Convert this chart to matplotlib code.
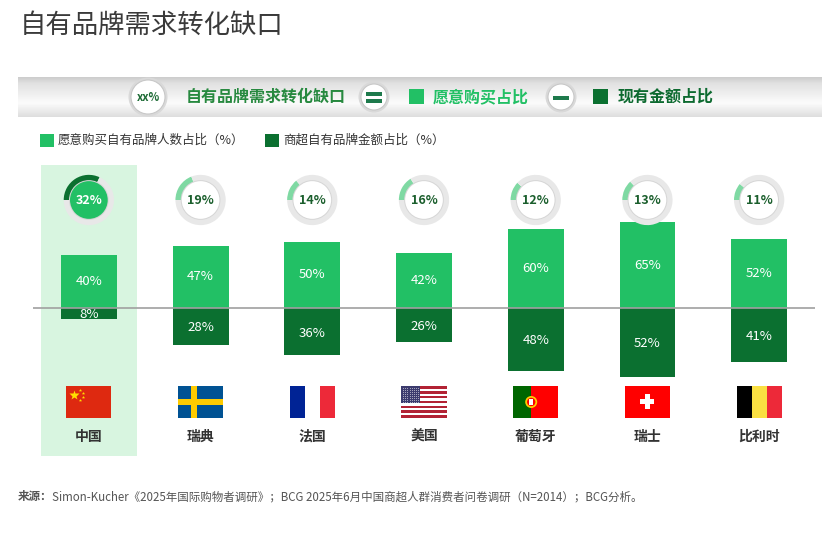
import numpy as np
import matplotlib
matplotlib.use("Agg")
from matplotlib import pyplot as plt
from matplotlib.patches import Rectangle, Circle

plt.rcParams['font.family'] = ['Noto Sans CJK SC', 'DejaVu Sans']

countries = ['中国', '瑞典', '法国', '美国', '葡萄牙', '瑞士', '比利时']
want_pct = [40, 47, 50, 42, 60, 65, 52]    # 愿意购买自有品牌人数占比
share_pct = [8, 28, 36, 26, 48, 52, 41]    # 商超自有品牌金额占比
gap_pct = [32, 19, 14, 16, 12, 13, 11]     # 需求转化缺口
flags = ['cn', 'se', 'fr', 'us', 'pt', 'ch', 'be']

LIGHT = '#22c065'
DARK = '#0b7030'
TXT = '#333333'

W, H = 839, 538
fig = plt.figure(figsize=(W / 100, H / 100), dpi=100)

# 底层画布：像素坐标
bg = fig.add_axes([0, 0, 1, 1])
bg.set_xlim(0, W)
bg.set_ylim(H, 0)
bg.axis('off')

bg.text(20, 25, '自有品牌需求转化缺口', fontsize=19, color='#3a3a3a',
        va='center', ha='left')

# 顶部灰色横幅
grad = np.interp(np.linspace(0, 1, 60), [0, 0.15, 0.65, 1.0],
                 [0.80, 0.88, 0.985, 0.87])
bg.imshow(grad[:, None], cmap='gray', vmin=0, vmax=1, aspect='auto',
          extent=(18, 822, 117, 77), zorder=1)


def badge(x, r):
    bg.add_patch(Circle((x, 97), r + 2.5, fc='#d9d9d9', ec='none', zorder=2))
    bg.add_patch(Circle((x, 97), r, fc='white', ec='#c8c8c8', lw=0.8, zorder=3))


badge(148, 17)
bg.text(148, 97.5, 'xx%', fontsize=8, color='#1d6b35', weight='bold',
        ha='center', va='center', zorder=4)
bg.text(186, 97, '自有品牌需求转化缺口', fontsize=11.5, color='#27893f',
        weight='bold', ha='left', va='center', zorder=4)
badge(374, 13)
bg.add_patch(Rectangle((366, 92), 16, 3.5, fc='#1e7a4c', zorder=4))
bg.add_patch(Rectangle((366, 99), 16, 3.5, fc='#1e7a4c', zorder=4))
bg.add_patch(Rectangle((409, 89), 15, 15, fc=LIGHT, zorder=4))
bg.text(433, 97, '愿意购买占比', fontsize=11.5, color=LIGHT,
        weight='bold', ha='left', va='center', zorder=4)
badge(561, 13)
bg.add_patch(Rectangle((553, 95.5), 16, 4, fc='#1e7a4c', zorder=4))
bg.add_patch(Rectangle((593, 89), 15, 15, fc=DARK, zorder=4))
bg.text(618, 97, '现有金额占比', fontsize=11.5, color='#0d6a30',
        weight='bold', ha='left', va='center', zorder=4)

# 图例
bg.add_patch(Rectangle((40, 134), 14, 13, fc=LIGHT))
bg.text(58, 140.5, '愿意购买自有品牌人数占比（%）', fontsize=9, color=TXT,
        va='center', ha='left')
bg.add_patch(Rectangle((265, 134), 14, 13, fc=DARK))
bg.text(283, 140.5, '商超自有品牌金额占比（%）', fontsize=9, color=TXT,
        va='center', ha='left')

# 脚注
t1 = bg.text(18, 500, '来源：', fontsize=8.3, color='#555555', weight='bold',
             va='baseline', ha='left')
bg.annotate('Simon-Kucher《2025年国际购物者调研》；BCG 2025年6月中国商超人群消费者问卷调研（N=2014）；BCG分析。',
            xy=(1, 0), xycoords=t1, va='bottom', ha='left',
            fontsize=8.3, color='#555555')

# 主图：柱状
ax = fig.add_axes([33 / W, (H - 460) / H, (815 - 33) / W, 300 / H])
ax.patch.set_alpha(0)
ax.set_xlim(-0.5, 6.5)
ax.set_ylim(-115.2, 112.1)
ax.axis('off')

x = np.arange(len(countries))
ax.add_patch(Rectangle((-0.43, -112.1), 0.86, 220.4, fc='#d8f5e0', ec='none', zorder=0))
ax.bar(x, want_pct, width=0.5, color=LIGHT, zorder=2)
ax.bar(x, [-v for v in share_pct], width=0.5, color=DARK, zorder=2)
ax.axhline(0, color='#a0a0a0', lw=1.2, zorder=3)

for i in range(len(countries)):
    ax.text(i, want_pct[i] / 2, f'{want_pct[i]}%', color='white', fontsize=9.5,
            ha='center', va='center', zorder=4)
    ax.text(i, -share_pct[i] / 2 - 1, f'{share_pct[i]}%', color='white', fontsize=9.5,
            ha='center', va='center', zorder=4)
    ax.text(i, -97.7, countries[i], color=TXT, fontsize=10, weight='bold',
            ha='center', va='center')

# 缺口圆环
for i, g in enumerate(gap_pct):
    ia = ax.inset_axes([i - 0.25, 81.8 - 20, 0.5, 40], transform=ax.transData)
    hot = i == 0
    ia.pie([g, 100 - g], startangle=180, counterclock=False,
           colors=[DARK if hot else '#7fd9a3', '#e8e8e8'],
           wedgeprops=dict(width=0.24, linewidth=0))
    ia.add_patch(Circle((0, 0), 0.79, fc='#d6d6d6', ec='none'))
    ia.add_patch(Circle((0, 0), 0.75, fc=LIGHT if hot else 'white', ec='none'))
    ia.text(0, -0.02, f'{g}%', fontsize=9, weight='bold',
            color='white' if hot else '#1a5e2c', ha='center', va='center')
    ia.set_xlim(-1.05, 1.05)
    ia.set_ylim(-1.05, 1.05)
    ia.set_aspect('equal')
    ia.axis('off')


# 国旗
def draw_flag(fa, code):
    r = lambda x0, y0, w, h, c: fa.add_patch(Rectangle((x0, y0), w, h, fc=c, ec='none'))
    if code == 'cn':
        r(0, 0, 45, 31, '#de2910')
        fa.plot([7.5], [22.5], marker='*', ms=7, color='#ffde00', mec='none')
        for sx, sy in [(14, 27), (16.5, 24), (16.5, 20), (14, 17)]:
            fa.plot([sx], [sy], marker='*', ms=2.5, color='#ffde00', mec='none')
    elif code == 'se':
        r(0, 0, 45, 31, '#005293')
        r(13, 0, 5.5, 31, '#fecb00')
        r(0, 12.8, 45, 5.5, '#fecb00')
    elif code == 'fr':
        r(0, 0, 15, 31, '#002395')
        r(15, 0, 15, 31, 'white')
        r(30, 0, 15, 31, '#ed2939')
    elif code == 'us':
        sh = 31 / 13
        for k in range(13):
            r(0, 31 - (k + 1) * sh, 45, sh, '#b22234' if k % 2 == 0 else 'white')
        r(0, 31 - 7 * sh, 19, 7 * sh, '#3c3b6e')
        for sx in np.arange(1.5, 19, 2.2):
            for sy in np.arange(31 - 7 * sh + 1.2, 31, 2.0):
                fa.plot([sx], [sy], marker='.', ms=1.2, color='white', mec='none')
    elif code == 'pt':
        r(0, 0, 18, 31, '#006600')
        r(18, 0, 27, 31, '#ff0000')
        fa.add_patch(Circle((18, 15.5), 6, fc='#ffcc00', ec='none'))
        fa.add_patch(Circle((18, 15.5), 4.2, fc='#ff0000', ec='none'))
        fa.add_patch(Rectangle((16, 12.5), 4, 6, fc='white', ec='none'))
    elif code == 'ch':
        r(0, 0, 45, 31, '#ff0000')
        r(20, 8, 5, 15, 'white')
        r(15.5, 13, 14, 5, 'white')
    elif code == 'be':
        r(0, 0, 15, 31, '#000000')
        r(15, 0, 15, 31, '#fae042')
        r(30, 0, 15, 31, '#ed2939')
    fa.set_xlim(0, 45)
    fa.set_ylim(0, 31)
    fa.axis('off')


for i, code in enumerate(flags):
    fa = ax.inset_axes([i - 0.2015, -83.0, 0.403, 23.5], transform=ax.transData)
    draw_flag(fa, code)

fig.savefig('out.png', dpi=100)
